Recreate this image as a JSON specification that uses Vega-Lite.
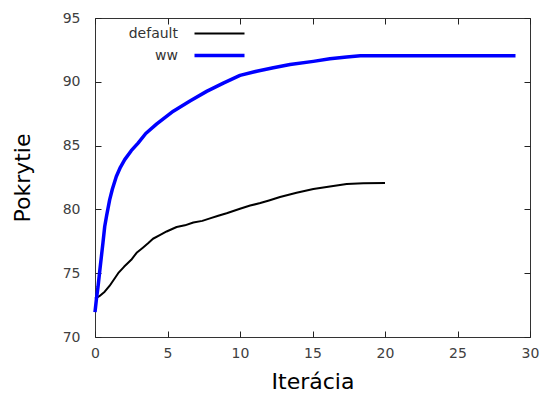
{
  "$schema": "https://vega.github.io/schema/vega-lite/v6.json",
  "width": 435,
  "height": 319,
  "autosize": "none",
  "padding": {"left": 95, "top": 18, "right": 18, "bottom": 64},
  "background": "white",
  "config": {
    "font": "DejaVu Sans",
    "view": {"stroke": "#333333", "strokeWidth": 1},
    "axis": {
      "grid": false,
      "domain": false,
      "labelFlush": false,
      "labelFont": "DejaVu Sans",
      "labelFontSize": 14,
      "labelColor": "#404040",
      "titleFont": "DejaVu Sans",
      "titleFontSize": 22,
      "titleFontWeight": "normal",
      "titleColor": "#000000",
      "zindex": 1
    }
  },
  "data": {
    "values": [
      {"series": "default", "x": 0, "y": 73.0},
      {"series": "default", "x": 0.3, "y": 73.2},
      {"series": "default", "x": 0.67, "y": 73.55},
      {"series": "default", "x": 1.0, "y": 74.0},
      {"series": "default", "x": 1.6, "y": 75.0},
      {"series": "default", "x": 2.0, "y": 75.5},
      {"series": "default", "x": 2.5, "y": 76.05},
      {"series": "default", "x": 2.87, "y": 76.6},
      {"series": "default", "x": 3.3, "y": 77.0},
      {"series": "default", "x": 3.66, "y": 77.35},
      {"series": "default", "x": 4.0, "y": 77.7},
      {"series": "default", "x": 4.5, "y": 78.0},
      {"series": "default", "x": 4.94, "y": 78.27},
      {"series": "default", "x": 5.63, "y": 78.62},
      {"series": "default", "x": 6.2, "y": 78.75},
      {"series": "default", "x": 6.78, "y": 78.97},
      {"series": "default", "x": 7.4, "y": 79.1},
      {"series": "default", "x": 7.93, "y": 79.3},
      {"series": "default", "x": 8.5, "y": 79.5},
      {"series": "default", "x": 9.08, "y": 79.7},
      {"series": "default", "x": 10.0, "y": 80.05},
      {"series": "default", "x": 10.7, "y": 80.3},
      {"series": "default", "x": 11.4, "y": 80.5},
      {"series": "default", "x": 12.0, "y": 80.7},
      {"series": "default", "x": 12.76, "y": 80.97},
      {"series": "default", "x": 13.9, "y": 81.3},
      {"series": "default", "x": 15.06, "y": 81.6},
      {"series": "default", "x": 16.2, "y": 81.8},
      {"series": "default", "x": 17.36, "y": 81.99},
      {"series": "default", "x": 18.5, "y": 82.05},
      {"series": "default", "x": 20, "y": 82.07},
      {"series": "ww", "x": 0, "y": 71.95},
      {"series": "ww", "x": 0.1, "y": 73.0},
      {"series": "ww", "x": 0.21, "y": 73.95},
      {"series": "ww", "x": 0.33, "y": 75.2},
      {"series": "ww", "x": 0.44, "y": 76.3},
      {"series": "ww", "x": 0.55, "y": 77.4},
      {"series": "ww", "x": 0.67, "y": 78.66},
      {"series": "ww", "x": 0.8, "y": 79.5},
      {"series": "ww", "x": 1.01, "y": 80.75},
      {"series": "ww", "x": 1.2, "y": 81.6},
      {"series": "ww", "x": 1.47, "y": 82.58},
      {"series": "ww", "x": 1.75, "y": 83.3},
      {"series": "ww", "x": 2.05, "y": 83.9},
      {"series": "ww", "x": 2.5, "y": 84.6},
      {"series": "ww", "x": 2.97, "y": 85.2},
      {"series": "ww", "x": 3.5, "y": 85.95},
      {"series": "ww", "x": 4.26, "y": 86.7},
      {"series": "ww", "x": 5.4, "y": 87.7},
      {"series": "ww", "x": 6.55, "y": 88.5},
      {"series": "ww", "x": 7.7, "y": 89.25},
      {"series": "ww", "x": 8.85, "y": 89.9},
      {"series": "ww", "x": 10.0, "y": 90.5},
      {"series": "ww", "x": 11.15, "y": 90.83},
      {"series": "ww", "x": 12.3, "y": 91.1},
      {"series": "ww", "x": 13.45, "y": 91.35},
      {"series": "ww", "x": 15.06, "y": 91.6},
      {"series": "ww", "x": 16.2, "y": 91.8},
      {"series": "ww", "x": 17.36, "y": 91.95},
      {"series": "ww", "x": 18.3, "y": 92.05},
      {"series": "ww", "x": 20, "y": 92.05},
      {"series": "ww", "x": 25, "y": 92.05},
      {"series": "ww", "x": 29, "y": 92.05}
    ]
  },
  "layer": [
    {
      "mark": {"type": "line", "strokeOpacity": 0},
      "encoding": {
        "x": {"field": "x", "type": "quantitative", "scale": {"domain": [0, 30], "nice": false, "zero": false},
              "axis": {"orient": "top", "labels": false, "title": null, "tickCount": 6, "ticks": true, "tickSize": 6, "offset": -6, "tickColor": "#222222", "tickWidth": 1, "tickOpacity": 1}},
        "y": {"field": "y", "type": "quantitative", "scale": {"domain": [70, 95], "nice": false, "zero": false},
              "axis": {"orient": "right", "labels": false, "title": null, "tickCount": 5, "ticks": true, "tickSize": 6, "offset": -6, "tickColor": "#222222", "tickWidth": 1, "tickOpacity": 1}},
        "detail": {"field": "series", "type": "nominal"}
      }
    },
    {
      "mark": {"type": "line", "strokeCap": "butt", "strokeJoin": "round"},
      "encoding": {
        "x": {"field": "x", "type": "quantitative", "scale": {"domain": [0, 30], "nice": false, "zero": false},
              "axis": {"orient": "bottom", "title": "Iterácia", "tickCount": 6, "ticks": true, "tickSize": 6, "offset": -6, "tickColor": "#222222", "tickWidth": 1, "tickOpacity": 1, "labelPadding": 9, "titlePadding": 11}},
        "y": {"field": "y", "type": "quantitative", "scale": {"domain": [70, 95], "nice": false, "zero": false},
              "axis": {"orient": "left", "title": "Pokrytie", "tickCount": 5, "ticks": true, "tickSize": 6, "offset": -6, "tickColor": "#222222", "tickWidth": 1, "tickOpacity": 1, "labelPadding": 15, "titlePadding": 28}},
        "color": {"field": "series", "type": "nominal",
                  "scale": {"domain": ["default", "ww"], "range": ["#000000", "#0000ff"]},
                  "legend": {"title": null, "orient": "none", "legendX": 110, "legendY": 2,
                             "symbolType": "M-2,0H2", "symbolSize": 625,
                             "labelAlign": "right", "labelOffset": -56,
                             "labelFont": "DejaVu Sans", "labelFontSize": 14, "labelColor": "#333333",
                             "rowPadding": -3, "padding": 0}},
        "strokeWidth": {"field": "series", "type": "nominal",
                        "scale": {"domain": ["default", "ww"], "range": [2, 3.5]}}
      }
    }
  ],
  "resolve": {"axis": {"x": "independent", "y": "independent"}}
}
